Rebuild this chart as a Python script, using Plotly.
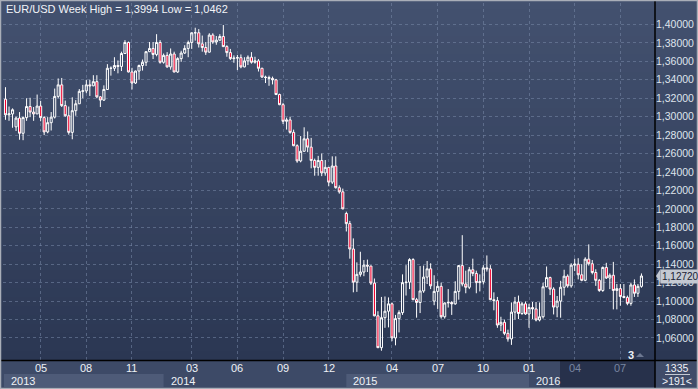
import pandas as pd
import plotly.graph_objects as go

# ---------------- data (weekly EUR/USD candles) ----------------
week_start = pd.date_range("2013-02-25", periods=182, freq="7D")

open_ = [
    1.3190, 1.3020, 1.3030, 1.2890, 1.2985, 1.2820, 1.2990, 1.3110, 1.3050, 1.3030,
    1.3115, 1.2990, 1.2835, 1.2935, 1.2995, 1.3220, 1.3345, 1.3120, 1.3010, 1.2830,
    1.3065, 1.3140, 1.3275, 1.3280, 1.3345, 1.3335, 1.3380, 1.3215, 1.3180, 1.3295,
    1.3525, 1.3525, 1.3555, 1.3545, 1.3685, 1.3805, 1.3485, 1.3365, 1.3495, 1.3555,
    1.3590, 1.3705, 1.3740, 1.3675, 1.3805,
    1.3590, 1.3665, 1.3540, 1.3680, 1.3485, 1.3630, 1.3690, 1.3740, 1.3805, 1.3910,
    1.3910, 1.3790, 1.3750, 1.3700, 1.3885, 1.3810, 1.3830, 1.3870, 1.3760, 1.3695,
    1.3630, 1.3635, 1.3640, 1.3540, 1.3605, 1.3645, 1.3590, 1.3605, 1.3525, 1.3430,
    1.3425, 1.3415, 1.3400, 1.3240, 1.3130, 1.2950, 1.2965, 1.2830, 1.2685, 1.2520,
    1.2625, 1.2760, 1.2670, 1.2525, 1.2450, 1.2525, 1.2390, 1.2450, 1.2290, 1.2465,
    1.2230, 1.2185,
    1.1950, 1.1840, 1.1565, 1.1205, 1.1290, 1.1315, 1.1390, 1.1380, 1.1195, 1.0840,
    1.0495, 1.0820, 1.0890, 1.0970, 1.0600, 1.0810, 1.0875, 1.1200, 1.1205, 1.1450,
    1.1015, 1.0985, 1.1110, 1.1260, 1.1350, 1.1000, 1.1105, 1.1160, 1.0830, 1.0980,
    1.0985, 1.0970, 1.1105, 1.1385, 1.1185, 1.1150, 1.1340, 1.1300, 1.1200, 1.1210,
    1.1360, 1.1350, 1.1015, 1.1005, 1.0740, 1.0770, 1.0650, 1.0590, 1.0880, 1.0990,
    1.0865, 1.0970,
    1.0860, 1.0930, 1.0915, 1.0795, 1.0830, 1.1155, 1.1255, 1.1130, 1.0935, 1.1000,
    1.1150, 1.1270, 1.1165, 1.1390, 1.1400, 1.1285, 1.1225, 1.1455, 1.1405, 1.1310,
    1.1225, 1.1115, 1.1365, 1.1250, 1.1280, 1.1115, 1.1135, 1.1050, 1.1040, 1.0975,
    1.1175, 1.1085, 1.1160,
]
high_ = [
    1.3320, 1.3110, 1.3090, 1.3000, 1.3050, 1.3000, 1.3200, 1.3205, 1.3105, 1.3240,
    1.3170, 1.3005, 1.2995, 1.3050, 1.3305, 1.3415, 1.3420, 1.3175, 1.3110, 1.3210,
    1.3180, 1.3300, 1.3345, 1.3400, 1.3400, 1.3450, 1.3450, 1.3225, 1.3340, 1.3570,
    1.3545, 1.3645, 1.3610, 1.3705, 1.3830, 1.3815, 1.3530, 1.3500, 1.3565, 1.3620,
    1.3710, 1.3810, 1.3810, 1.3895, 1.3830,
    1.3685, 1.3700, 1.3740, 1.3705, 1.3645, 1.3715, 1.3775, 1.3825, 1.3915, 1.3965,
    1.3950, 1.3880, 1.3810, 1.3905, 1.3905, 1.3875, 1.3895, 1.3994, 1.3775, 1.3735,
    1.3665, 1.3670, 1.3675, 1.3645, 1.3665, 1.3700, 1.3650, 1.3625, 1.3530, 1.3445,
    1.3445, 1.3435, 1.3410, 1.3250, 1.3150, 1.2990, 1.3000, 1.2860, 1.2700, 1.2790,
    1.2885, 1.2840, 1.2770, 1.2545, 1.2575, 1.2600, 1.2530, 1.2455, 1.2570, 1.2570,
    1.2255, 1.2220,
    1.1970, 1.1870, 1.1680, 1.1420, 1.1535, 1.1445, 1.1450, 1.1385, 1.1245, 1.0890,
    1.1045, 1.1050, 1.1040, 1.0985, 1.0850, 1.0900, 1.1290, 1.1390, 1.1465, 1.1465,
    1.1035, 1.1380, 1.1385, 1.1435, 1.1410, 1.1280, 1.1215, 1.1200, 1.0985, 1.1130,
    1.1000, 1.1215, 1.1390, 1.1715, 1.1330, 1.1370, 1.1460, 1.1330, 1.1290, 1.1390,
    1.1495, 1.1390, 1.1095, 1.1045, 1.0830, 1.0800, 1.0690, 1.0985, 1.1045, 1.1060,
    1.0990, 1.0995,
    1.0970, 1.0990, 1.0990, 1.0985, 1.1200, 1.1375, 1.1265, 1.1150, 1.1055, 1.1220,
    1.1340, 1.1290, 1.1410, 1.1460, 1.1465, 1.1400, 1.1475, 1.1615, 1.1445, 1.1345,
    1.1240, 1.1375, 1.1415, 1.1300, 1.1425, 1.1185, 1.1185, 1.1185, 1.1060, 1.1200,
    1.1235, 1.1185, 1.1300,
]
low_ = [
    1.2966, 1.2955, 1.2880, 1.2845, 1.2750, 1.2745, 1.2955, 1.2995, 1.2955, 1.3030,
    1.2950, 1.2800, 1.2820, 1.2850, 1.2980, 1.3200, 1.3105, 1.3000, 1.2805, 1.2755,
    1.3010, 1.3140, 1.3200, 1.3255, 1.3225, 1.3330, 1.3200, 1.3105, 1.3170, 1.3290,
    1.3445, 1.3495, 1.3470, 1.3495, 1.3680, 1.3480, 1.3295, 1.3355, 1.3400, 1.3500,
    1.3550, 1.3700, 1.3625, 1.3655, 1.3575,
    1.3575, 1.3530, 1.3510, 1.3480, 1.3475, 1.3595, 1.3680, 1.3645, 1.3735, 1.3825,
    1.3750, 1.3705, 1.3670, 1.3695, 1.3790, 1.3780, 1.3820, 1.3755, 1.3650, 1.3615,
    1.3585, 1.3505, 1.3525, 1.3535, 1.3560, 1.3575, 1.3575, 1.3490, 1.3420, 1.3365,
    1.3335, 1.3350, 1.3235, 1.3125, 1.2920, 1.2860, 1.2815, 1.2680, 1.2500, 1.2505,
    1.2620, 1.2615, 1.2440, 1.2360, 1.2360, 1.2355, 1.2360, 1.2245, 1.2270, 1.2220,
    1.2165, 1.1995,
    1.1755, 1.1460, 1.1095, 1.1100, 1.1265, 1.1270, 1.1315, 1.1175, 1.0835, 1.0490,
    1.0462, 1.0710, 1.0715, 1.0565, 1.0520, 1.0660, 1.0850, 1.1060, 1.1130, 1.1010,
    1.0820, 1.0870, 1.1090, 1.1185, 1.1130, 1.0955, 1.0915, 1.0810, 1.0810, 1.0930,
    1.0850, 1.0960, 1.1015, 1.1160, 1.1085, 1.1130, 1.1270, 1.1085, 1.1105, 1.1180,
    1.1320, 1.1010, 1.0900, 1.0710, 1.0675, 1.0630, 1.0560, 1.0525, 1.0800, 1.0805,
    1.0850, 1.0850,
    1.0710, 1.0805, 1.0780, 1.0780, 1.0810, 1.1150, 1.1065, 1.0855, 1.0825, 1.0820,
    1.1060, 1.1145, 1.1145, 1.1325, 1.1235, 1.1215, 1.1215, 1.1385, 1.1290, 1.1165,
    1.1100, 1.1100, 1.1240, 1.1130, 1.0910, 1.0910, 1.0950, 1.1030, 1.0955, 1.0950,
    1.1045, 1.1045, 1.1145,
]
close_ = [
    1.3020, 1.3030, 1.3075, 1.2985, 1.2820, 1.2990, 1.3110, 1.3050, 1.3030, 1.3115,
    1.2990, 1.2835, 1.2935, 1.2995, 1.3220, 1.3345, 1.3120, 1.3010, 1.2830, 1.3065,
    1.3140, 1.3275, 1.3280, 1.3345, 1.3335, 1.3380, 1.3215, 1.3180, 1.3295, 1.3525,
    1.3525, 1.3555, 1.3545, 1.3685, 1.3805, 1.3485, 1.3365, 1.3495, 1.3555, 1.3590,
    1.3705, 1.3740, 1.3675, 1.3805, 1.3590,
    1.3665, 1.3540, 1.3680, 1.3485, 1.3630, 1.3690, 1.3740, 1.3805, 1.3910, 1.3910,
    1.3790, 1.3750, 1.3700, 1.3885, 1.3810, 1.3830, 1.3870, 1.3760, 1.3695, 1.3630,
    1.3635, 1.3640, 1.3540, 1.3605, 1.3645, 1.3590, 1.3605, 1.3525, 1.3430, 1.3425,
    1.3415, 1.3400, 1.3240, 1.3130, 1.2950, 1.2965, 1.2830, 1.2685, 1.2520, 1.2625,
    1.2760, 1.2670, 1.2525, 1.2450, 1.2525, 1.2390, 1.2450, 1.2290, 1.2465, 1.2230,
    1.2185, 1.2000,
    1.1840, 1.1565, 1.1205, 1.1290, 1.1315, 1.1390, 1.1380, 1.1195, 1.0840, 1.0495,
    1.0820, 1.0890, 1.0970, 1.0600, 1.0810, 1.0875, 1.1200, 1.1205, 1.1450, 1.1015,
    1.0985, 1.1110, 1.1260, 1.1350, 1.1165, 1.1105, 1.1160, 1.0830, 1.0980, 1.0985,
    1.0970, 1.1105, 1.1385, 1.1185, 1.1150, 1.1340, 1.1300, 1.1200, 1.1210, 1.1360,
    1.1350, 1.1015, 1.1005, 1.0740, 1.0770, 1.0650, 1.0590, 1.0880, 1.0990, 1.0865,
    1.0970, 1.0860,
    1.0930, 1.0915, 1.0795, 1.0830, 1.1155, 1.1255, 1.1130, 1.0935, 1.1000, 1.1150,
    1.1270, 1.1165, 1.1390, 1.1400, 1.1285, 1.1225, 1.1455, 1.1405, 1.1310, 1.1225,
    1.1115, 1.1365, 1.1250, 1.1280, 1.1115, 1.1135, 1.1050, 1.1040, 1.0975, 1.1175,
    1.1085, 1.1160, 1.1272,
]

y_ticks = [round(1.06 + 0.02 * i, 2) for i in range(18)]
y_tick_text = [f"{v:.5f}".replace(".", ",") for v in y_ticks]
tick_months = [(2013, 5), (2013, 8), (2013, 11), (2014, 3), (2014, 6), (2014, 9),
               (2014, 12), (2015, 4), (2015, 7), (2015, 10), (2016, 1), (2016, 4), (2016, 7)]
years = [2013, 2014, 2015, 2016]

# ---------------- geometry ----------------
W, H = 698, 389
ML, MR, MT, MB = 3, 43, 3, 29
PW, PH = W - ML - MR, H - MT - MB
X0, X1 = pd.Timestamp("2013-02-20"), pd.Timestamp("2016-09-11")
Y0, Y1 = 1.0361, 1.4233
FONT = "Liberation Sans, Arial, sans-serif"


def px(p):
    return (p - ML) / PW


def py(p):
    return (H - MB - p) / PH


def dpaper(d):
    return (d - X0) / (X1 - X0)


tick_dates = []
for (yy, mm) in tick_months:
    sel = [d for d in week_start if d.year == yy and d.month == mm]
    tick_dates.append(sel[0])
year_start = [[d for d in week_start if d.year == yy][0] for yy in years]

fig = go.Figure()
fig.add_trace(go.Candlestick(
    x=week_start, open=open_, high=high_, low=low_, close=close_,
    increasing=dict(line=dict(color="#ffffff", width=1), fillcolor="rgba(0,0,0,0)"),
    decreasing=dict(line=dict(color="#ffffff", width=1), fillcolor="#f0002e"),
    whiskerwidth=0, hoverinfo="skip", showlegend=False,
))

shapes = []
# background gradient (plot + right axis column)
top_c, bot_c = (67, 81, 111), (43, 55, 83)
n = 40
for i in range(n):
    t = i / (n - 1)
    c = tuple(round(top_c[k] + (bot_c[k] - top_c[k]) * t) for k in range(3))
    shapes.append(dict(type="rect", xref="paper", yref="paper",
                       x0=px(0), x1=px(W), y0=py(360 * (i + 1) / n), y1=py(360 * i / n),
                       fillcolor="rgb(%d,%d,%d)" % c, line=dict(width=0), layer="below"))

# bottom axis area
base = "#3d4a67"
light = "#4e5b78"
shapes.append(dict(type="rect", xref="paper", yref="paper", x0=px(0), x1=px(W),
                   y0=py(389), y1=py(360), fillcolor=base, line=dict(width=0), layer="below"))
yb = [dpaper(d) for d in year_start] + [px(655)]
yb[0] = px(4)
for i, yy in enumerate(years):
    if i % 2 == 0:
        shapes.append(dict(type="rect", xref="paper", yref="paper", x0=yb[i], x1=yb[i + 1],
                           y0=py(387), y1=py(374), fillcolor=light,
                           line=dict(width=0), layer="below"))
# dark (out-of-view) zone
shapes.append(dict(type="rect", xref="paper", yref="paper", x0=px(560), x1=px(655),
                   y0=py(387), y1=py(361), fillcolor="#27314b", line=dict(width=0), layer="below"))
# right-bottom box
shapes.append(dict(type="rect", xref="paper", yref="paper", x0=px(656), x1=px(697),
                   y0=py(388), y1=py(361), fillcolor="#3f4c69", line=dict(width=0), layer="below"))
shapes.append(dict(type="line", xref="paper", yref="paper", x0=px(665), x1=px(690),
                   y0=py(374.5), y1=py(374.5), line=dict(color="#c3c9d3", width=1)))
# black separators
shapes.append(dict(type="line", xref="paper", yref="paper", x0=px(655), x1=px(655),
                   y0=py(389), y1=py(0), line=dict(color="#000000", width=1.5)))
shapes.append(dict(type="line", xref="paper", yref="paper", x0=px(0), x1=px(W),
                   y0=py(360.5), y1=py(360.5), line=dict(color="#000000", width=1.5)))
# outer frame
shapes.append(dict(type="rect", xref="paper", yref="paper", x0=px(0.5), x1=px(W - 0.5),
                   y0=py(H - 0.5), y1=py(0.5), line=dict(color="#a9aeb8", width=1.5)))
# price tag arrow
last = close_[-1]
shapes.append(dict(type="path", xref="paper", yref="y",
                   path="M %f,%f L %f,%f L %f,%f Z" % (px(656), last, px(660.5), last + 7 / 922,
                                                       px(660.5), last - 7 / 922),
                   fillcolor="#c4c9d2", line=dict(width=0)))
# small marker triangle
shapes.append(dict(type="path", xref="paper", yref="paper",
                   path="M %f,%f L %f,%f L %f,%f Z" % (px(636), py(357), px(644), py(357),
                                                       px(640), py(353)),
                   fillcolor="#6d7891", line=dict(width=0)))

ann = []
ann.append(dict(xref="paper", yref="paper", x=px(4), y=py(9), xanchor="left", yanchor="middle",
                text="EUR/USD Week High = %s Low = %s" % (f"{max(high_):.4f}".replace(".", ","),
                                                          f"{min(low_):.4f}".replace(".", ",")),
                showarrow=False, font=dict(family=FONT, size=11, color="#f2f4f8")))
for d, (yy, mm) in zip(tick_dates, tick_months):
    col = "#7886a0" if (yy == 2016 and mm >= 4) else "#eef1f6"
    ann.append(dict(xref="paper", yref="paper", x=dpaper(d), y=py(367.5), xanchor="center",
                    yanchor="middle", text="%02d" % mm, showarrow=False,
                    font=dict(family=FONT, size=11, color=col)))
for i, yy in enumerate(years):
    ann.append(dict(xref="paper", yref="paper", x=yb[i] + px(8) - px(3), y=py(380.5),
                    xanchor="left", yanchor="middle", text=str(yy), showarrow=False,
                    font=dict(family=FONT, size=11, color="#eef1f6")))
ann.append(dict(xref="paper", yref="y", x=px(660), y=last, xanchor="left", yanchor="middle",
                text=f"{last:.5f}".replace(".", ","), showarrow=False, bgcolor="#c4c9d2",
                borderpad=1, font=dict(family=FONT, size=10, color="#1b2335")))
ann.append(dict(xref="paper", yref="paper", x=px(677), y=py(367.5), xanchor="center",
                yanchor="middle", text="1335", showarrow=False,
                font=dict(family=FONT, size=10.5, color="#eef1f6")))
ann.append(dict(xref="paper", yref="paper", x=px(677), y=py(381), xanchor="center",
                yanchor="middle", text="&gt;191&lt;", showarrow=False,
                font=dict(family=FONT, size=10.5, color="#eef1f6")))
ann.append(dict(xref="paper", yref="paper", x=px(631), y=py(355), xanchor="center",
                yanchor="middle", text="<b>3</b>", showarrow=False,
                font=dict(family=FONT, size=11, color="#eef1f6")))

fig.update_layout(
    width=W, height=H, margin=dict(l=ML, r=MR, t=MT, b=MB, autoexpand=False),
    paper_bgcolor="#2f3b57", plot_bgcolor="rgba(0,0,0,0)",
    showlegend=False, shapes=shapes, annotations=ann, boxgap=0.15,
    xaxis=dict(type="date", range=[X0, X1], rangeslider=dict(visible=False),
               tickvals=tick_dates, showticklabels=False, ticks="",
               showgrid=True, gridcolor="rgba(120,136,168,0.55)", griddash="3px,3px",
               gridwidth=1, zeroline=False, showline=False, fixedrange=True),
    yaxis=dict(range=[Y0, Y1], side="right", tickvals=y_ticks, ticktext=y_tick_text,
               ticks="", showgrid=True, gridcolor="rgba(120,136,168,0.55)",
               griddash="3px,3px", gridwidth=1, zeroline=False, showline=False,
               tickfont=dict(family=FONT, size=10.5, color="#dfe4ec"), fixedrange=True),
)

fig.write_html("out.html", config={"displayModeBar": False},
               post_script="document.body.style.margin='0';document.body.style.overflow='hidden';")
